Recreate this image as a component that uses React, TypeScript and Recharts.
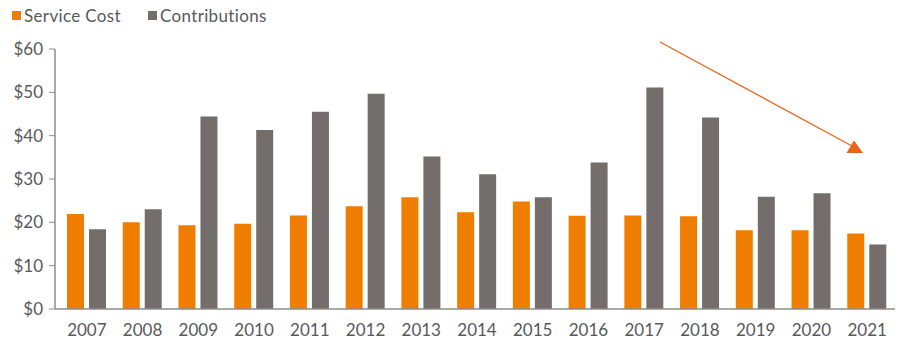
import { BarChart, Bar, XAxis, YAxis } from "recharts"

const years = ["2007", "2008", "2009", "2010", "2011", "2012", "2013", "2014", "2015", "2016", "2017", "2018", "2019", "2020", "2021"]
const serviceCost = [21.9, 20.0, 19.3, 19.7, 21.6, 23.7, 25.8, 22.3, 24.8, 21.5, 21.6, 21.4, 18.2, 18.2, 17.4]
const contributions = [18.4, 23.0, 44.4, 41.3, 45.5, 49.7, 35.2, 31.1, 25.8, 33.8, 51.1, 44.2, 25.9, 26.7, 14.9]
const yTicks = [0, 10, 20, 30, 40, 50, 60]
const seriesNames = ["Service Cost", "Contributions"]

const data = years.map((year, i) => ({
    year,
    serviceCost: serviceCost[i],
    contributions: contributions[i],
}))

const ORANGE = "#EF7D00"
const GRAY = "#736E6C"
const AXIS = "#8C8C8C"
const TEXT = "#58595B"
const FONT = "Lato, 'Open Sans', sans-serif"

function ChartLegend() {
    const colors = [ORANGE, GRAY]
    return (
        <div style={{ position: "absolute", top: 5, left: 12, display: "flex", alignItems: "center", fontFamily: FONT, fontSize: 17, letterSpacing: 0.35, color: TEXT }}>
            {seriesNames.map((name, i) => (
                <div key={name} style={{ display: "flex", alignItems: "center", marginRight: 27 }}>
                    <span style={{ display: "inline-block", width: 9, height: 9, background: colors[i], marginRight: 3 }} />
                    <span>{name}</span>
                </div>
            ))}
        </div>
    )
}

export default function App() {
    return (
        <div style={{ position: "absolute", left: 0, top: 0, width: 907, height: 358, background: "#fff" }}>
            <BarChart
                width={907}
                height={358}
                data={data}
                margin={{ top: 49, right: 12, left: 0, bottom: 9 }}
                barSize={17}
                barGap={5}
            >
                <XAxis
                    dataKey="year"
                    tickLine={false}
                    axisLine={{ stroke: AXIS, strokeWidth: 1.5 }}
                    tick={{ fill: TEXT, fontSize: 17, fontFamily: FONT }}
                    tickMargin={9}
                    padding={{ left: 4, right: 0 }}
                    height={40}
                    interval={0}
                />
                <YAxis
                    width={55}
                    domain={[0, 60]}
                    ticks={yTicks}
                    tickFormatter={(v) => `$${v}`}
                    axisLine={{ stroke: AXIS, strokeWidth: 1.5 }}
                    tickLine={{ stroke: AXIS }}
                    tickSize={6}
                    tickMargin={6}
                    tick={{ fill: TEXT, fontSize: 17, fontFamily: FONT }}
                />
                <Bar dataKey="serviceCost" name={seriesNames[0]} fill={ORANGE} isAnimationActive={false} />
                <Bar dataKey="contributions" name={seriesNames[1]} fill={GRAY} isAnimationActive={false} />
            </BarChart>
            <ChartLegend />
            <svg width={907} height={358} style={{ position: "absolute", left: 0, top: 0, pointerEvents: "none" }}>
                <line x1={660} y1={42} x2={852} y2={146} stroke="#E8641B" strokeWidth={1.3} />
                <polygon points="854,140.5 846.5,153 863,153" fill="#E8641B" />
            </svg>
        </div>
    )
}
